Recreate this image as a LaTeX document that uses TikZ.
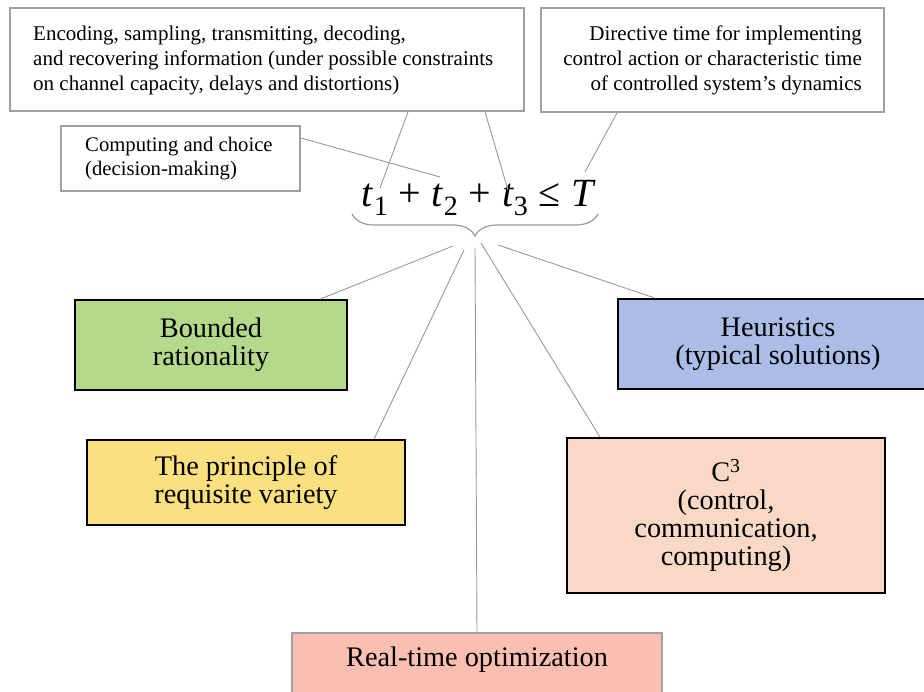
\documentclass[tikz,border=0pt]{standalone}
\usepackage{fontspec}
\setmainfont{Liberation Serif}
\usetikzlibrary{decorations.pathreplacing}
\definecolor{boxgray}{HTML}{A0A0A0}
\definecolor{linegray}{HTML}{999999}
\definecolor{cgreen}{HTML}{B4D98A}
\definecolor{cblue}{HTML}{AABDE6}
\definecolor{cyellow}{HTML}{FAE07E}
\definecolor{cpeach}{HTML}{F9D9C6}
\definecolor{csalmon}{HTML}{FABFB1}
\newcommand\tsubx[1]{\textit{t}\raisebox{-0.24em}{\fontsize{28}{28}\selectfont #1}}
\newcommand\opsp{\hspace{0.27em}}
\begin{document}
\begin{tikzpicture}[x=1pt,y=-1pt,
  topbox/.style={draw=boxgray, line width=1.8pt, fill=white, inner sep=0pt},
  bigbox/.style={draw=black, line width=1.8pt, inner sep=0pt, align=center,
     font=\fontsize{28.3}{28}\selectfont},
  conn/.style={draw=linegray, line width=0.9pt}]
\useasboundingbox (0,0) rectangle (924,692);
\fill[white] (0,0) rectangle (924,692);

% top boxes
\node[topbox, minimum width=514pt, minimum height=103pt] (enc) at (267,59.5) {};
\node[anchor=west, align=left, inner sep=0pt, font=\fontsize{21}{25}\selectfont] at (33,60) {Encoding, sampling, transmitting, decoding,\\and recovering information (under possible constraints\\on channel capacity, delays and distortions)};

\node[topbox, minimum width=343pt, minimum height=104pt] (dir) at (712.5,60) {};
\node[anchor=east, align=right, inner sep=0pt, font=\fontsize{21}{25}\selectfont] at (862,60) {Directive time for implementing\\control action or characteristic time\\of controlled system's dynamics};

\node[topbox, minimum width=239pt, minimum height=65pt] (comp) at (180.5,158.5) {};
\node[anchor=west, align=left, inner sep=0pt, font=\fontsize{20.7}{24}\selectfont] at (85,159) {Computing and choice\\(decision-making)};

% formula
\node[inner sep=0pt, font=\fontsize{40}{44}\selectfont] (form) at (479,198) {\tsubx{1}\opsp+\opsp\tsubx{2}\opsp+\opsp\tsubx{3}\opsp≤\opsp\textit{T}};
\draw[linegray, line width=1.2pt, decorate, decoration={brace, mirror, amplitude=22pt}] (352,214) -- (598,214);

\coordinate (f1) at (380,188);
\coordinate (f2) at (508,190);
\coordinate (f3) at (440,177);
\coordinate (f4) at (585,172);
\coordinate (g1) at (453,246);
\coordinate (g2) at (464,250);
\coordinate (g3) at (475,248);
\coordinate (g4) at (481,243);
\coordinate (g5) at (498,245);

% bottom boxes
\node[bigbox, fill=cgreen, minimum width=272pt, minimum height=90pt] (bounded) at (211,345) {Bounded\\rationality};
\node[bigbox, fill=cblue, minimum width=320pt, minimum height=90pt] (heur) at (778,344) {Heuristics\\(typical solutions)};
\node[bigbox, fill=cyellow, minimum width=318pt, minimum height=85pt] (prin) at (246,482.5) {The principle of\\requisite variety};
\node[bigbox, fill=cpeach, minimum width=318pt, minimum height=155pt] (c3) at (726,515.5) {C\textsuperscript{3}\\(control,\\communication,\\computing)};
\node[bigbox, draw=boxgray, fill=csalmon, minimum width=370pt, minimum height=80pt, anchor=north] (rt) at (477,632) {};
\node[font=\fontsize{28.3}{28}\selectfont, inner sep=0pt] at (477,660) {Real-time optimization};

% connectors
\draw[conn] (enc.south -| 408,0) -- (f1);
\draw[conn] (enc.south -| 485,0) -- (f2);
\draw[conn] (comp.east |- 0,138) -- (f3);
\draw[conn] (dir.south -| 617,0) -- (f4);
\draw[conn] (g1) -- (bounded.north -| 320,0);
\draw[conn] (g2) -- (prin.north -| 374,0);
\draw[conn] (g3) -- (rt.north);
\draw[conn] (g4) -- (c3.north -| 600,0);
\draw[conn] (g5) -- (heur.north -| 655,0);
\end{tikzpicture}
\end{document}
